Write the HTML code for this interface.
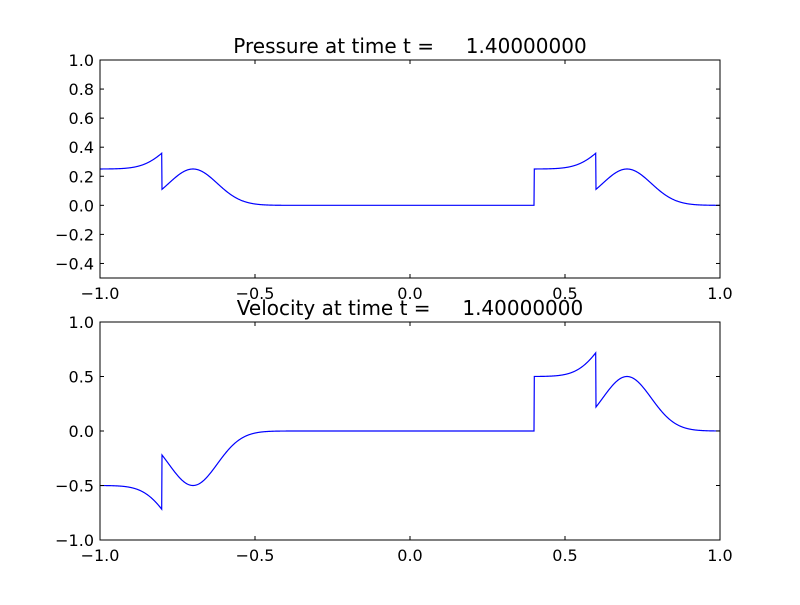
<!DOCTYPE html>
<html><head><meta charset="utf-8"><style>
body{margin:0;background:#fff}
svg text{font-family:"DejaVu Sans","Liberation Sans",sans-serif;fill:#000}
</style></head><body>
<svg id="s" width="800" height="600" xmlns="http://www.w3.org/2000/svg">
<rect width="800" height="600" fill="#fff"/>
<g id="g"></g>
</svg>
<script>
const g=document.getElementById('g');let h='';
const X=x=>410+310*x;
function shape(u){
  let v=0.25*Math.exp(-82*(u+0.7)*(u+0.7));
  if(u<-0.8) v+=0.25;
  return v;
}
function p(x){
  if(x<-0.4) return shape(x);
  if(x<0.4) return 0;
  return shape(x-1.4);
}
function vel(x){
  if(x<-0.4) return -2*shape(x);
  if(x<0.4) return 0;
  return 2*shape(x-1.4);
}
function axes(top,bot,ymin,ymax,ticks,fn,title,ty){
  const Y=y=>top+(ymax-y)/(ymax-ymin)*(bot-top);
  let d='';
  for(let i=0;i<=2000;i++){
    let x=-1+2*i/2000;
    d+=(i?'L':'M')+X(x).toFixed(2)+','+Y(fn(x)).toFixed(2);
  }
  h+=`<path d="${d}" fill="none" stroke="#0000ff" stroke-width="1.2"/>`;
  h+=`<rect x="100" y="${top}" width="620" height="${bot-top}" fill="none" stroke="#000" stroke-width="1"/>`;
  for(const t of ticks){
    const y=Y(t);
    h+=`<line x1="100" x2="104" y1="${y}" y2="${y}" stroke="#000"/><line x1="716" x2="720" y1="${y}" y2="${y}" stroke="#000"/>`;
    h+=`<text x="94" y="${y+6}" font-size="16" text-anchor="end">${t<0?'\u2212':''}${Math.abs(t).toFixed(1)}</text>`;
  }
  for(const t of [-1,-0.5,0,0.5,1]){
    const x=X(t);
    h+=`<line x1="${x}" x2="${x}" y1="${bot}" y2="${bot-4}" stroke="#000"/><line x1="${x}" x2="${x}" y1="${top}" y2="${top+4}" stroke="#000"/>`;
    h+=`<text x="${x}" y="${bot+21}" font-size="16" text-anchor="middle">${t<0?'\u2212':''}${Math.abs(t).toFixed(1)}</text>`;
  }
  h+=`<text x="410" y="${ty}" font-size="20" text-anchor="middle" xml:space="preserve">${title}</text>`;
}
axes(60,278,-0.5,1.0,[-0.4,-0.2,0,0.2,0.4,0.6,0.8,1.0],p,'Pressure at time t =     1.40000000',53);
axes(322,540,-1,1,[-1,-0.5,0,0.5,1],vel,'Velocity at time t =     1.40000000',315);
g.innerHTML=h;
</script>
</body></html>
